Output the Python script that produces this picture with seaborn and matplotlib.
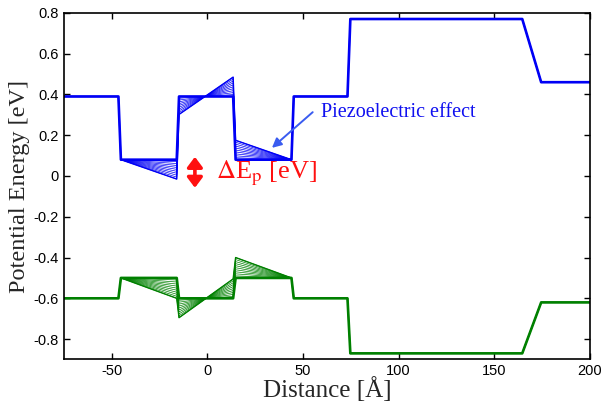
import matplotlib

matplotlib.use("Agg")

import matplotlib.pyplot as plt
import pandas as pd
import seaborn as sns

# band-edge profile breakpoints [Angstrom]
X_NODES = [-75, -46.5, -45.2, -16, -14.8, 13.5, 14.8, 44, 45.2, 73.3, 74.8, 164.7, 174.6, 200]

# conduction band (blue) and valence band (green), unstrained [eV]
CB_BASE = [0.39, 0.39, 0.08, 0.08, 0.39, 0.39, 0.08, 0.08, 0.39, 0.39, 0.77, 0.77, 0.46, 0.46]
VB_BASE = [-0.60, -0.60, -0.50, -0.50, -0.60, -0.60, -0.50, -0.50, -0.60, -0.60, -0.87, -0.87, -0.62, -0.62]

# full piezoelectric shift at each breakpoint [eV]
CB_PIEZO = [0, 0, 0, -0.095, -0.088, 0.095, 0.095, 0, 0, 0, 0, 0, 0, 0]
VB_PIEZO = [0, 0, 0, -0.100, -0.095, 0.095, 0.100, 0, 0, 0, 0, 0, 0, 0]

# fraction of the piezoelectric field switched on, one curve each
STRAIN_LEVELS = [0.0, 0.1, 0.2, 0.3, 0.4, 0.5, 0.6, 0.7, 0.8, 0.9, 1.0]

BAND_COLORS = {"CB": "#0000f5", "VB": "#008000"}

X_TICKS = [-50, 0, 50, 100, 150, 200]
Y_TICKS = [-0.8, -0.6, -0.4, -0.2, 0, 0.2, 0.4, 0.6, 0.8]

SERIF = ["Liberation Serif", "DejaVu Serif"]


def build_profiles() -> pd.DataFrame:
    rows = []
    for band, base, piezo in (("CB", CB_BASE, CB_PIEZO), ("VB", VB_BASE, VB_PIEZO)):
        for strain in STRAIN_LEVELS:
            for x, e0, de in zip(X_NODES, base, piezo):
                rows.append({"band": band, "strain": strain, "distance": x, "energy": e0 + strain * de})
    return pd.DataFrame(rows)


def main() -> None:
    profiles = build_profiles()

    sns.set_theme(style="ticks")
    plt.rcParams["font.family"] = ["Liberation Sans", "DejaVu Sans"]
    plt.rcParams["mathtext.fontset"] = "stix"

    fig = plt.figure(figsize=(6.03, 4.03), dpi=100)
    ax = fig.add_axes([0.106, 0.108, 0.872, 0.860])

    # fan of strained profiles (the hatched regions)
    sns.lineplot(
        data=profiles[profiles["strain"] > 0],
        x="distance",
        y="energy",
        hue="band",
        units="strain",
        estimator=None,
        sort=False,
        palette=BAND_COLORS,
        linewidth=0.5,
        legend=False,
        ax=ax,
    )
    # fully strained curve slightly heavier, unstrained curve thick
    for strain, width in ((STRAIN_LEVELS[-1], 1.0), (0.0, 1.9)):
        sns.lineplot(
            data=profiles[profiles["strain"] == strain],
            x="distance",
            y="energy",
            hue="band",
            estimator=None,
            sort=False,
            palette=BAND_COLORS,
            linewidth=width,
            legend=False,
            ax=ax,
        )

    ax.annotate(
        "",
        xy=(32.7, 0.129),
        xytext=(56.2, 0.322),
        arrowprops=dict(arrowstyle="-|>", color="#3a5cf0", lw=1.4, mutation_scale=14),
    )
    ax.text(59.5, 0.31, "Piezoelectric effect", color="#1010f0", fontsize=14.5,
            family=SERIF, ha="left", va="center")

    ax.annotate(
        "",
        xy=(-6.5, -0.058),
        xytext=(-6.5, 0.094),
        arrowprops=dict(arrowstyle="<|-|>,head_length=0.6,head_width=0.45", color="#ff1010",
                        lw=2.6, mutation_scale=10, shrinkA=0, shrinkB=0),
    )
    ax.text(4.3, 0.012, r"$\Delta$E$_{\mathrm{p}}$ [eV]", color="#ff1010", fontsize=19,
            family=SERIF, ha="left", va="center")

    ax.set_xlim(-75, 200)
    ax.set_ylim(-0.9, 0.8)
    ax.set_xticks(X_TICKS)
    ax.set_yticks(Y_TICKS)
    ax.set_xticklabels([f"{v:g}" for v in X_TICKS])
    ax.set_yticklabels([f"{v:g}" for v in Y_TICKS])
    ax.tick_params(direction="in", length=4, width=1, labelsize=10.5,
                   top=True, right=True, colors="black")
    for spine in ax.spines.values():
        spine.set_visible(True)
        spine.set_color("black")
        spine.set_linewidth(1.2)

    ax.set_xlabel("Distance [Å]", fontsize=18, family=SERIF, labelpad=-1)
    ax.set_ylabel("Potential Energy [eV]", fontsize=17.5, family=SERIF, labelpad=3)

    fig.savefig("out.png", dpi=100, facecolor="white")
    plt.close(fig)


if __name__ == "__main__":
    main()
